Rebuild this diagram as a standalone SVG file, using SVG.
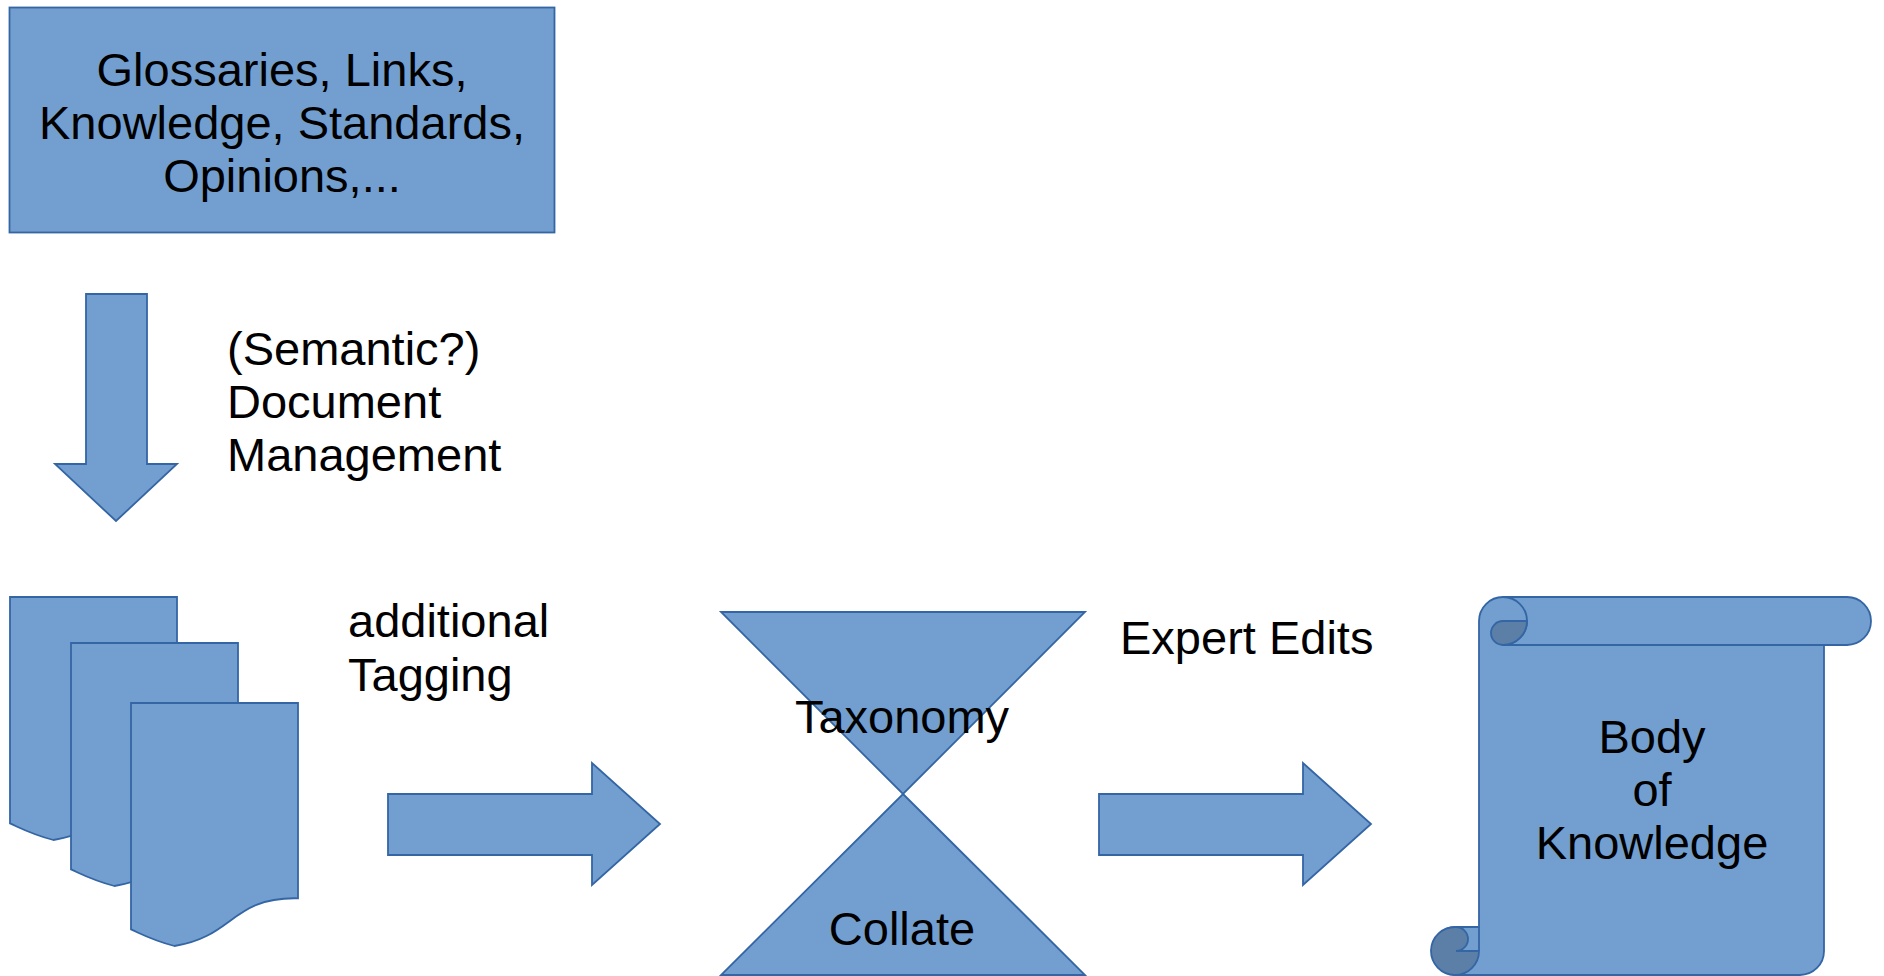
<svg xmlns="http://www.w3.org/2000/svg" xmlns:xlink="http://www.w3.org/1999/xlink" width="1884" height="976" viewBox="0 0 1884 976">
<style>
.shape{fill:#729fcf;stroke:#3465a4;stroke-width:1.8;stroke-linejoin:miter}
.dark{fill:#5b7fa6;stroke:#3465a4;stroke-width:1.8}
.line{fill:none;stroke:#3465a4;stroke-width:1.8}
.t{font-family:"Liberation Sans",Arial,sans-serif;font-size:47px;fill:#000}
.c{text-anchor:middle}
</style>
<defs>
<path id="doc" d="M0,0 L167,0 L167,195.3 C100.9,193.7 103.1,233.7 43.45,243 C22.1,237.4 14.3,232.9 0,226.4 Z"/>
<path id="rarrow" d="M0,31 L204,31 L204,0 L272,61 L204,122 L204,92 L0,92 Z"/>
</defs>
<rect width="1884" height="976" fill="#fff"/>

<g id="sources">
<rect class="shape" x="9.5" y="7.5" width="545" height="225"/>
<text class="t c" x="282" y="86">Glossaries, Links,</text>
<text class="t c" x="282" y="139">Knowledge, Standards,</text>
<text class="t c" x="282" y="192">Opinions,...</text>
</g>

<g id="documents">
<use xlink:href="#doc" href="#doc" class="shape" x="10" y="597"/>
<use xlink:href="#doc" href="#doc" class="shape" x="71" y="643"/>
<use xlink:href="#doc" href="#doc" class="shape" x="131" y="703"/>
</g>

<g id="collate">
<path class="shape" d="M721,612 L1085,612 L903,794 Z"/>
<path class="shape" d="M903,794 L1085,975 L721,975 Z"/>
<text class="t c" x="902" y="733">Taxonomy</text>
<text class="t c" x="902" y="945">Collate</text>
</g>

<g id="body-of-knowledge">
<path class="shape" d="M1503,597 L1847,597 A24,24 0 0 1 1847,645 L1824,645 L1824,951 A24,24 0 0 1 1800,975 L1456,975 A24,24 0 0 1 1456,927 L1479,927 L1479,621 A24,24 0 0 1 1503,597 Z"/>
<path class="line" d="M1503,597 A24,24 0 0 1 1503,645 L1824,645"/>
<path class="dark" d="M1527,621 A24,24 0 0 1 1503,645 A12,12 0 0 1 1503,621 Z"/>
<path class="line" d="M1479,927 L1479,951"/>
<path class="dark" d="M1456,927 A12,12 0 0 1 1456,951 L1479,951 A24,24 0 1 1 1456,927 Z"/>
<text class="t c" x="1652" y="753">Body</text>
<text class="t c" x="1652" y="806">of</text>
<text class="t c" x="1652" y="859">Knowledge</text>
</g>

<g id="connectors">
<path class="shape" d="M86,294 L147,294 L147,464 L177,464 L116,521 L55,464 L86,464 Z"/>
<use xlink:href="#rarrow" href="#rarrow" class="shape" x="388" y="763"/>
<use xlink:href="#rarrow" href="#rarrow" class="shape" x="1099" y="763"/>
</g>

<g id="labels">
<text class="t" x="227" y="365">(Semantic?)</text>
<text class="t" x="227" y="418">Document</text>
<text class="t" x="227" y="471">Management</text>
<text class="t" x="348" y="637">additional</text>
<text class="t" x="348" y="691">Tagging</text>
<text class="t" x="1120" y="654">Expert Edits</text>
</g>
</svg>
